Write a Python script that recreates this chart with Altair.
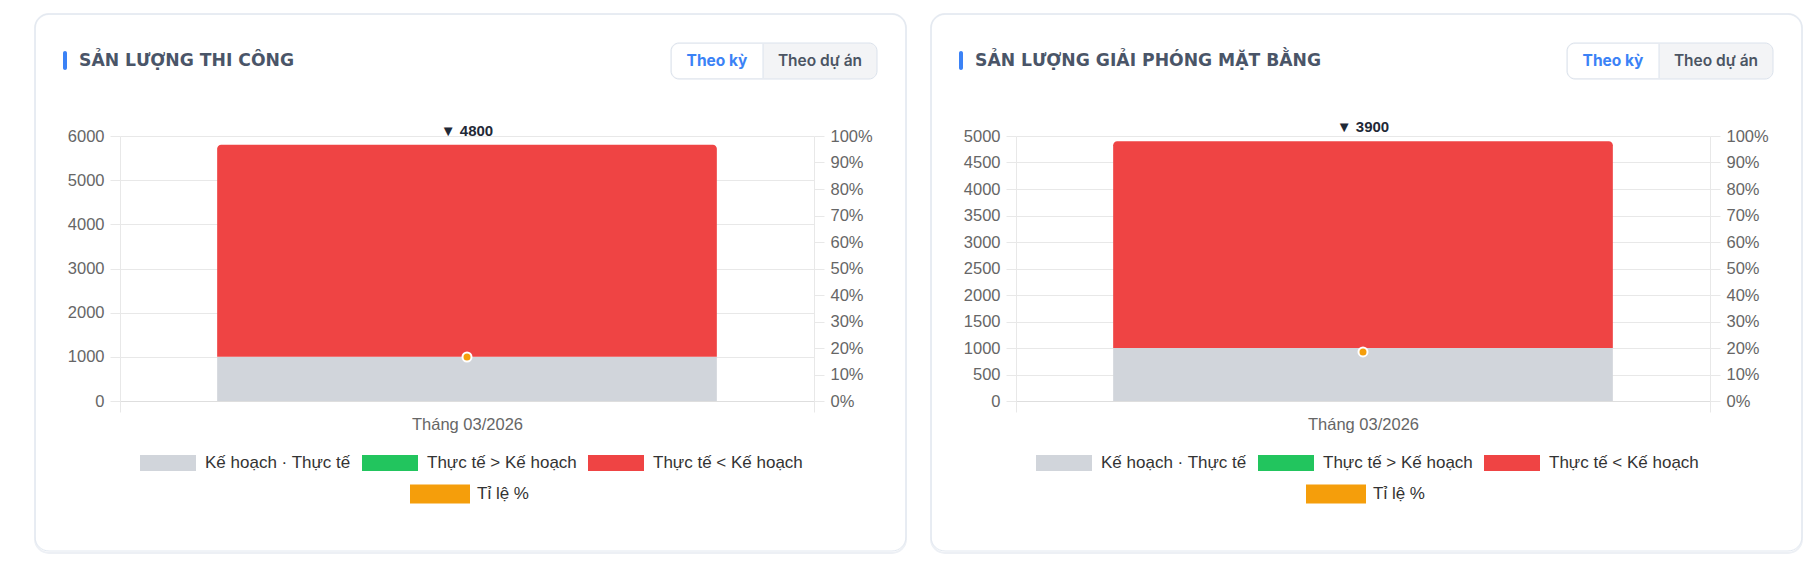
import altair as alt
import pandas as pd

# ---------------- data ----------------
months = ["Tháng 03/2026"]
panel_titles = ["SẢN LƯỢNG THI CÔNG", "SẢN LƯỢNG GIẢI PHÓNG MẶT BẰNG"]
toggle_labels = ["Theo kỳ", "Theo dự án"]
series_names = ["Kế hoạch · Thực tế", "Thực tế > Kế hoạch", "Thực tế < Kế hoạch"]
series_colors = ["#d1d5db", "#22c55e", "#ef4444"]
rate_name = "Tỉ lệ %"
rate_color = "#f59e0b"

base_values = [1000, 1000]    # Kế hoạch · Thực tế (gray)
over_values = [0, 0]          # Thực tế > Kế hoạch (green)
under_values = [4800, 3900]   # Thực tế < Kế hoạch (red)
rate_values = [16.6, 18.5]    # Tỉ lệ % (orange point, right axis)
y_max = [6000, 5000]
y_step = [1000, 500]
pct_ticks = [0, 10, 20, 30, 40, 50, 60, 70, 80, 90, 100]

# ---------------- style ----------------
W, H = 694, 265
AX_FONT = "Liberation Sans"
AX_COLOR = "#666666"
GRID = "#e8e8e8"


def panel(i):
    rows = []
    start = 0
    for name, vals in zip(series_names, [base_values, over_values, under_values]):
        v = vals[i]
        rows.append({"month": months[0], "series": name, "y0": start, "y1": start + v})
        start += v
    bars_df = pd.DataFrame(rows)
    top_df = pd.DataFrame({"month": months, "top": [start],
                           "label": ["▼ " + str(under_values[i])]})
    rate_df = pd.DataFrame({"month": months, "rate": [rate_values[i]], "name": [rate_name]})
    one = pd.DataFrame({"k": [0]})

    x_axis = alt.Axis(title=None, labelAngle=0, tickBand="extent", ticks=True, tickSize=11,
                      tickColor=GRID, grid=True, gridColor=GRID, domain=True, domainColor="#dedede",
                      labelFont=AX_FONT, labelFontSize=16.5, labelColor=AX_COLOR, labelPadding=4)
    x_enc = alt.X("month:N", scale=alt.Scale(paddingInner=0, paddingOuter=0), axis=x_axis)
    left_axis = alt.Axis(title=None, orient="left", format="d",
                         values=list(range(0, y_max[i] + 1, y_step[i])),
                         tickSize=10, tickColor=GRID, grid=True, gridColor=GRID, domain=False,
                         labelFont=AX_FONT, labelFontSize=16.5, labelColor=AX_COLOR, labelPadding=6)
    y_scale = alt.Scale(domain=[0, y_max[i]], nice=False)

    color_enc = alt.Color(
        "series:N",
        scale=alt.Scale(domain=series_names, range=series_colors),
        legend=alt.Legend(orient="none", legendX=20, legendY=299, direction="horizontal",
                          title=None, symbolType="M-1,-0.2857H1V0.2857H-1Z", symbolSize=3136,
                          symbolStrokeWidth=0, symbolOpacity=1, labelFont=AX_FONT,
                          labelFontSize=17, labelColor="#333333", labelOffset=9,
                          columnPadding=11, padding=0, labelLimit=300),
    )

    low = alt.Chart(bars_df).transform_filter(
        alt.datum.series != series_names[2]
    ).mark_bar(width=alt.RelativeBandSize(0.72)).encode(
        x=x_enc, y=alt.Y("y0:Q", scale=y_scale, axis=left_axis), y2="y1:Q", color=color_enc)
    high = alt.Chart(bars_df).transform_filter(
        alt.datum.series == series_names[2]
    ).mark_bar(width=alt.RelativeBandSize(0.72), cornerRadiusTopLeft=4,
               cornerRadiusTopRight=4).encode(
        x=x_enc, y=alt.Y("y0:Q", scale=y_scale, axis=left_axis), y2="y1:Q", color=color_enc)
    top_txt = alt.Chart(top_df).mark_text(dy=-14, font=AX_FONT, fontSize=15, fontWeight="bold",
                                          color="#1f2937", baseline="middle").encode(
        x=x_enc, y=alt.Y("top:Q", scale=y_scale, axis=left_axis), text="label:N")
    bar_layer = alt.layer(low, high, top_txt)

    right_axis = alt.Axis(title=None, orient="right", values=pct_ticks,
                          labelExpr="datum.value + '%'", tickSize=10, tickColor=GRID,
                          grid=False, domain=False, labelFont=AX_FONT, labelFontSize=16.5,
                          labelColor=AX_COLOR, labelPadding=6)
    pts = alt.Chart(rate_df).mark_circle(size=81, stroke="white", strokeWidth=2, opacity=1).encode(
        x=x_enc,
        y=alt.Y("rate:Q", scale=alt.Scale(domain=[0, 100], nice=False), axis=right_axis),
        fill=alt.Fill("name:N", scale=alt.Scale(domain=[rate_name], range=[rate_color]),
                      legend=alt.Legend(orient="none", legendX=290, legendY=328, title=None,
                                        symbolType="M-1,-0.3167H1V0.3167H-1Z", symbolSize=3600,
                                        symbolStrokeWidth=0, symbolOpacity=1, labelFont=AX_FONT,
                                        labelFontSize=17, labelColor="#333333", labelOffset=7,
                                        padding=0)),
    )

    # card chrome
    shadow = alt.Chart(one).mark_rect(cornerRadius=14, fillOpacity=0, stroke="#edf0f5",
                                      strokeWidth=2).encode(
        x=alt.value(-85), x2=alt.value(786), y=alt.value(-122), y2=alt.value(417))
    card = alt.Chart(one).mark_rect(cornerRadius=14, fillOpacity=0, stroke="#e2e8f0",
                                    strokeWidth=1).encode(
        x=alt.value(-85), x2=alt.value(786), y=alt.value(-122), y2=alt.value(415))
    accent = alt.Chart(one).mark_rect(cornerRadius=2, color="#3b82f6").encode(
        x=alt.value(-57), x2=alt.value(-53), y=alt.value(-85), y2=alt.value(-66))
    title = alt.Chart(one).mark_text(text=panel_titles[i], align="left", baseline="middle",
                                     font="DejaVu Sans", fontWeight="bold", fontSize=17.2,
                                     color="#4a5568").encode(x=alt.value(-41), y=alt.value(-75))
    tbox = alt.Chart(one).mark_rect(cornerRadius=8, fill="#f3f4f6", stroke="#dbe2ec",
                                    strokeWidth=1).encode(
        x=alt.value(551), x2=alt.value(757), y=alt.value(-93), y2=alt.value(-57))
    tleft = alt.Chart(one).mark_rect(cornerRadiusTopLeft=7, cornerRadiusBottomLeft=7,
                                     fill="white").encode(
        x=alt.value(552), x2=alt.value(643), y=alt.value(-92), y2=alt.value(-58))
    tdiv = alt.Chart(one).mark_rule(color="#dbe2ec").encode(
        x=alt.value(643), y=alt.value(-92), y2=alt.value(-58))
    t1 = alt.Chart(one).mark_text(text=toggle_labels[0], font="Inter", fontWeight="bold",
                                  fontSize=15.5, color="#3b82f6", baseline="middle").encode(
        x=alt.value(597), y=alt.value(-75))
    t2 = alt.Chart(one).mark_text(text=toggle_labels[1], font="Inter", fontWeight=600,
                                  fontSize=15.5, color="#4b5563", baseline="middle").encode(
        x=alt.value(700), y=alt.value(-75))

    return alt.layer(shadow, card, accent, title, tbox, tleft, tdiv, t1, t2,
                     bar_layer, pts).resolve_scale(y="independent").properties(width=W, height=H)


chart = alt.hconcat(panel(0), panel(1), spacing=23).resolve_scale(
    x="independent", y="independent", color="independent", fill="independent"
).properties(
    padding={"left": 26, "top": 5, "right": 0, "bottom": 0}
).configure(background="white").configure_view(stroke=None)

chart.save("out.html", embed_options={"renderer": "svg", "actions": False})
